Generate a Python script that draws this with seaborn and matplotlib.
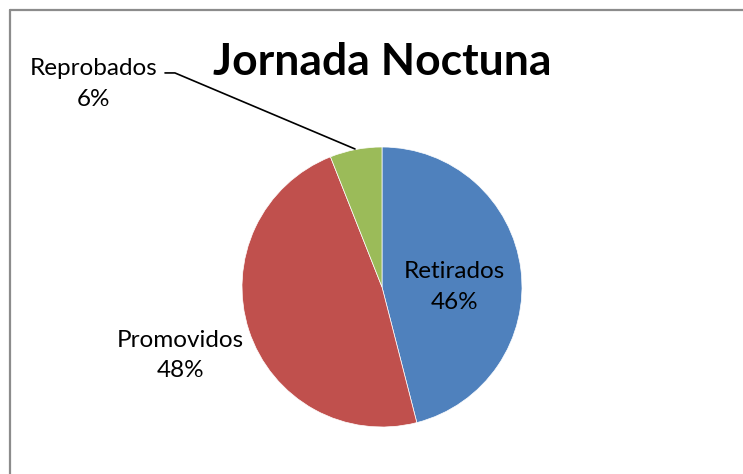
import seaborn as sns
from matplotlib import pyplot as plt
from matplotlib.lines import Line2D

# data
categorias = ['Retirados', 'Promovidos', 'Reprobados']
porcentajes = [46, 48, 6]
colores = ['#4F81BD', '#C0504D', '#9BBB59']
titulo = 'Jornada Noctuna'

sns.set_theme(style='white')
plt.rcParams['font.family'] = ['Lato', 'DejaVu Sans']

fig = plt.figure(figsize=(7.43, 4.74), dpi=100)
fig.patch.set_facecolor('white')

# pie centred at (382, 287) px, radius 140 px
ax = fig.add_axes([242 / 743, 47 / 474, 280 / 743, 280 / 474])
ax.pie(porcentajes, colors=colores, startangle=90, counterclock=False,
       radius=1, wedgeprops=dict(linewidth=0.5, edgecolor='white'))
ax.set_xlim(-1, 1)
ax.set_ylim(-1, 1)
ax.set_aspect('equal')
ax.axis('off')

# label positions (data coords of the pie axes)
pos = {'Retirados': (0.52, 0.0), 'Promovidos': (-1.44, -0.49), 'Reprobados': (-2.06, 1.45)}
for cat, val in zip(categorias, porcentajes):
    x, y = pos[cat]
    ax.text(x, y, f'{cat}\n{val}%', ha='center', va='center', fontsize=17.5,
            linespacing=1.55, color='black', clip_on=False)

# leader line for the small slice
ax.add_line(Line2D([-1.55, -1.479, -0.193], [1.529, 1.529, 0.986], color='black',
                   linewidth=1.2, clip_on=False))

fig.text(382 / 743, 1 - 62 / 474, titulo, ha='center', va='center',
         fontsize=32, fontweight='bold', color='black')

# chart frame (cut off at right and bottom)
fig.add_artist(Line2D([10 / 743, 10 / 743], [0, 1 - 10 / 474], transform=fig.transFigure,
                      color='#8c8c8c', linewidth=1.6))
fig.add_artist(Line2D([10 / 743, 1], [1 - 10 / 474, 1 - 10 / 474], transform=fig.transFigure,
                      color='#8c8c8c', linewidth=1.6))

fig.savefig('out.png', dpi=100)
